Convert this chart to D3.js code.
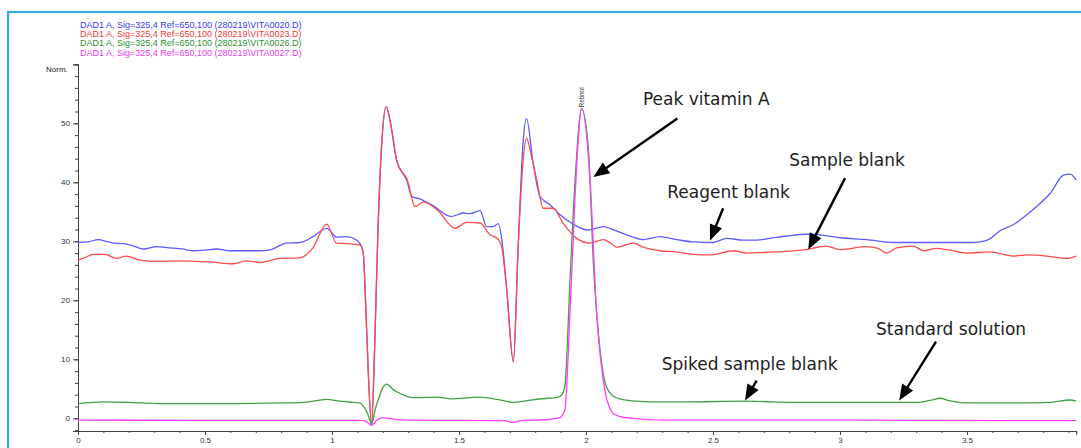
<!DOCTYPE html>
<html>
<head>
<meta charset="utf-8">
<script src="https://cdn.jsdelivr.net/npm/d3@7"></script>
<style>
  body { margin: 0; background: #fff; }
  svg { display: block; }
</style>
</head>
<body>
<svg id="chart"></svg>
<script>
// retention time (min) vs signal (Norm.)
const sampleBlank = [
  [0, 29.8], [0.04, 29.9], [0.08, 30.3], [0.11, 30.0], [0.14, 29.7], [0.18, 29.6], [0.22, 29.2],
  [0.257, 28.7], [0.31, 29.1], [0.36, 28.9], [0.41, 28.7], [0.454, 28.4], [0.5, 28.5], [0.545, 28.7],
  [0.598, 28.4], [0.65, 28.4], [0.717, 28.4], [0.76, 28.6], [0.82, 29.7], [0.874, 29.8], [0.925, 30.8],
  [0.979, 32.2], [1.018, 30.7], [1.058, 30.8], [1.097, 30.2], [1.116, 29.1], [1.123, 28], [1.134, 17.8],
  [1.143, 7.7], [1.156, -1.1], [1.168, 12.1], [1.181, 31.9], [1.195, 46], [1.213, 52.8], [1.235, 48.9],
  [1.254, 43.8], [1.274, 41.8], [1.294, 40.4], [1.314, 37.6], [1.346, 37.2], [1.399, 36], [1.47, 34.2],
  [1.516, 34.8], [1.543, 34.7], [1.583, 35.2], [1.609, 32.5], [1.635, 32.5], [1.655, 33], [1.668, 30.5],
  [1.687, 22.3], [1.714, 9.6], [1.733, 29.1], [1.753, 47.2], [1.766, 50.8], [1.792, 43.2], [1.819, 37.6],
  [1.858, 36.2], [1.898, 34.5], [1.95, 32.9], [2.009, 31.9], [2.068, 32.5], [2.094, 32.2], [2.134, 31.5],
  [2.18, 30.8], [2.226, 30.3], [2.291, 30.8], [2.357, 30.3], [2.422, 29.9], [2.501, 29.8], [2.554, 30.5],
  [2.62, 30.2], [2.672, 30.2], [2.724, 30.5], [2.79, 30.9], [2.868, 31.2], [2.92, 31.1], [3.0, 30.6],
  [3.105, 30.3], [3.21, 29.8], [3.341, 29.8], [3.433, 29.8], [3.512, 29.8], [3.564, 30.0], [3.59, 30.4],
  [3.63, 31.8], [3.682, 32.8], [3.709, 33.6], [3.774, 35.9], [3.827, 38.1], [3.88, 41.2], [3.906, 41.4],
  [3.93, 40.4]
];

const reagentBlank = [
  [0, 26.8], [0.03, 27.3], [0.06, 27.8], [0.106, 27.8], [0.152, 27.1], [0.19, 27.5], [0.244, 26.8],
  [0.31, 26.6], [0.4, 26.7], [0.46, 26.6], [0.52, 26.5], [0.611, 26.2], [0.664, 26.7], [0.717, 26.4],
  [0.795, 27.1], [0.874, 27.2], [0.925, 28.9], [0.979, 32.9], [1.018, 29.7], [1.058, 29.6], [1.11, 29.4],
  [1.123, 28], [1.134, 17.8], [1.143, 7.7], [1.156, -1.1], [1.168, 12.1], [1.181, 31.9], [1.195, 46],
  [1.213, 52.8], [1.235, 48.9], [1.254, 43.8], [1.274, 41.8], [1.294, 40.7], [1.327, 35.9], [1.36, 36.7],
  [1.415, 35.3], [1.484, 32.2], [1.53, 33.2], [1.583, 33.1], [1.622, 31.1], [1.655, 30.3], [1.668, 29.1],
  [1.687, 22.3], [1.714, 9.6], [1.733, 29.1], [1.753, 44], [1.766, 47.5], [1.785, 44.5], [1.806, 40.4],
  [1.832, 35.6], [1.871, 35.6], [1.911, 33], [1.963, 30.5], [2.016, 29.7], [2.068, 30.3], [2.094, 29.8],
  [2.121, 29], [2.186, 29.7], [2.226, 29], [2.291, 28.4], [2.357, 28.2], [2.422, 27.8], [2.488, 27.7],
  [2.58, 28.4], [2.633, 28], [2.737, 28.2], [2.868, 28.6], [2.947, 29.2], [3.0, 28.6], [3.105, 29.1],
  [3.15, 28.8], [3.184, 28], [3.223, 28.9], [3.289, 29.2], [3.328, 28.4], [3.38, 28.8], [3.433, 28.5],
  [3.499, 28], [3.59, 28.2], [3.682, 27.5], [3.74, 27.7], [3.814, 27.5], [3.893, 27.1], [3.93, 27.5]
];

const spikedSampleBlank = [
  [0, 2.5], [0.1, 2.8], [0.2, 2.7], [0.322, 2.5], [0.5, 2.5], [0.625, 2.5], [0.8, 2.6], [0.887, 2.7],
  [0.94, 3.0], [0.979, 3.2], [1.03, 2.9], [1.084, 2.7], [1.11, 2.6], [1.123, 2.1], [1.14, 0.8],
  [1.156, -1.0], [1.17, 1.5], [1.185, 3.5], [1.2, 5.2], [1.215, 5.8], [1.24, 4.9], [1.268, 4.2],
  [1.32, 3.5], [1.412, 3.6], [1.47, 3.3], [1.543, 3.5], [1.583, 3.6], [1.65, 3.2], [1.714, 2.7],
  [1.78, 3.1], [1.85, 3.4], [1.885, 3.5], [1.905, 4.0], [1.917, 5.5], [1.937, 23.4], [1.957, 40.4],
  [1.983, 52.5], [2.009, 46], [2.029, 26.3], [2.054, 12.1], [2.08, 5.4], [2.107, 3.8], [2.134, 3.3],
  [2.2, 2.9], [2.252, 2.8], [2.4, 2.8], [2.619, 2.9], [2.843, 2.7], [3.105, 2.7], [3.3, 2.7],
  [3.36, 3.1], [3.394, 3.4], [3.43, 3.0], [3.499, 2.6], [3.7, 2.6], [3.827, 2.7], [3.906, 3.1], [3.93, 2.9]
];

const standardSolution = [
  [0, -0.3], [0.5, -0.35], [1.0, -0.35], [1.12, -0.35], [1.14, -0.7], [1.156, -1.2], [1.175, -0.4],
  [1.2, 0.1], [1.23, -0.1], [1.3, -0.3], [1.5, -0.35], [1.68, -0.4], [1.714, -0.7], [1.74, -0.4],
  [1.85, -0.2], [1.898, 0.1], [1.91, 0.8], [1.917, 1.4], [1.937, 17.8], [1.957, 37.6], [1.983, 52.5],
  [2.016, 40.4], [2.042, 17.8], [2.068, 6.5], [2.08, 3.5], [2.094, 1.7], [2.107, 0.8], [2.134, 0.3],
  [2.186, 0], [2.3, -0.3], [2.8, -0.3], [3.3, -0.35], [3.93, -0.4]
];

const seriesNames = [
  "DAD1 A, Sig=325,4 Ref=650,100 (280219\\VITA0020.D)",
  "DAD1 A, Sig=325,4 Ref=650,100 (280219\\VITA0023.D)",
  "DAD1 A, Sig=325,4 Ref=650,100 (280219\\VITA0026.D)",
  "DAD1 A, Sig=325,4 Ref=650,100 (280219\\VITA0027.D)"
];

const xMajorTicks = [0, 0.5, 1, 1.5, 2, 2.5, 3, 3.5];
const yMajorTicks = [0, 10, 20, 30, 40, 50, 60];
const yTickLabels = ["0", "10", "20", "30", "40", "50", ""];

// label, text anchor [x, y], arrow start [x, y], arrow tip [x, y]  (in data units)
const annotationLabels = ["Peak vitamin A", "Sample blank", "Reagent blank", "Standard solution", "Spiked sample blank"];

const width = 1081;
const height = 448;

const svg = d3.select("#chart").attr("width", width).attr("height", height);

const x = d3.scaleLinear().domain([0, 3.93]).range([78, 1076.2]);
const y = d3.scaleLinear().domain([-2.15, 60]).range([431, 64.3]);

// ── Frame ──
svg.append("rect")
  .attr("x", 8).attr("y", 12)
  .attr("width", 1200).attr("height", 600)
  .attr("fill", "none")
  .attr("stroke", "#38ace2")
  .attr("stroke-width", 2.2);

// ── Legend lines at top ──
const legendColors = ["#3a3af0", "#f03a3a", "#2f8f2f", "#e83ae8"];
const seriesColors = ["#5c5cff", "#ff4a4a", "#44a044", "#ff3cff"];

svg.append("g")
  .selectAll("text")
  .data(seriesNames)
  .join("text")
  .attr("x", 80)
  .attr("y", (d, i) => 28 + i * 9.2)
  .attr("font-family", "Liberation Sans, Arial, sans-serif")
  .attr("font-size", 9)
  .attr("fill", (d, i) => legendColors[i])
  .text((d) => d);

// ── Axes ──
const axisColor = "#444";
const tickFont = (g) => g.selectAll("text")
  .attr("font-family", "Liberation Sans, Arial, sans-serif")
  .attr("font-size", 8)
  .attr("fill", "#333");

svg.append("g")
  .attr("transform", `translate(${x(0)},0)`)
  .call(d3.axisLeft(y).tickValues(d3.range(-2, 61, 2)).tickSize(3).tickFormat(""))
  .call((g) => g.selectAll("line,path").attr("stroke", axisColor));

svg.append("g")
  .attr("transform", `translate(${x(0)},0)`)
  .call(d3.axisLeft(y).tickValues(yMajorTicks).tickSize(5).tickPadding(3)
    .tickFormat((d, i) => yTickLabels[i]))
  .call((g) => g.selectAll("line,path").attr("stroke", axisColor))
  .call(tickFont);

svg.append("g")
  .attr("transform", `translate(0,${y.range()[0]})`)
  .call(d3.axisBottom(x).tickValues(d3.range(0, 39.5).map((i) => i / 10)).tickSize(2).tickFormat(""))
  .call((g) => g.selectAll("line,path").attr("stroke", axisColor));

svg.append("g")
  .attr("transform", `translate(0,${y.range()[0]})`)
  .call(d3.axisBottom(x).tickValues(xMajorTicks).tickSize(4).tickPadding(2).tickFormat((d) => d))
  .call((g) => g.selectAll("line,path").attr("stroke", axisColor))
  .call(tickFont);

svg.append("text")
  .attr("x", 46).attr("y", 72)
  .attr("font-family", "Liberation Sans, Arial, sans-serif")
  .attr("font-size", 8)
  .attr("fill", "#222")
  .text("Norm.");

// ── Chromatograms ──
const line = d3.line()
  .x((d) => x(d[0]))
  .y((d) => y(d[1]))
  .curve(d3.curveMonotoneX);

const traces = [sampleBlank, reagentBlank, spikedSampleBlank, standardSolution];

svg.append("g")
  .selectAll("path")
  .data(traces)
  .join("path")
  .attr("d", line)
  .attr("fill", "none")
  .attr("stroke", (d, i) => seriesColors[i])
  .attr("stroke-width", 1.3)
  .attr("stroke-linejoin", "round");

// peak label
svg.append("text")
  .attr("transform", `translate(${x(1.983) + 2.5},${y(52.5) - 1}) rotate(-90)`)
  .attr("font-family", "Liberation Sans, Arial, sans-serif")
  .attr("font-size", 6.5)
  .attr("fill", "#333")
  .text("Retinol");

// ── Annotations ──
const annoPos = [
  { text: [2.224, 53.1], from: [2.36, 50.8], tip: [2.029, 40.9] },
  { text: [2.80, 42.8], from: [3.02, 40.7], tip: [2.875, 28.6] },
  { text: [2.32, 37.3], from: [2.54, 35.6], tip: [2.488, 30.1] },
  { text: [3.142, 14.1], from: [3.378, 13.0], tip: [3.233, 3.0] },
  { text: [2.298, 8.2], from: [2.672, 6.4], tip: [2.626, 3.0] }
];

const anno = svg.append("g");
const headLen = 16;
const headHalf = 6.5;

annotationLabels.forEach((label, i) => {
  const p = annoPos[i];
  anno.append("text")
    .attr("x", x(p.text[0]))
    .attr("y", y(p.text[1]))
    .attr("font-family", "DejaVu Sans, sans-serif")
    .attr("font-size", 17)
    .attr("fill", "#1e1e1e")
    .text(label);

  const x1 = x(p.from[0]), y1 = y(p.from[1]);
  const x2 = x(p.tip[0]), y2 = y(p.tip[1]);
  const len = Math.hypot(x2 - x1, y2 - y1);
  const ux = (x2 - x1) / len, uy = (y2 - y1) / len;
  const bx = x2 - ux * headLen, by = y2 - uy * headLen;

  anno.append("line")
    .attr("x1", x1).attr("y1", y1)
    .attr("x2", bx + ux * 2).attr("y2", by + uy * 2)
    .attr("stroke", "#000")
    .attr("stroke-width", 2.4);

  anno.append("path")
    .attr("d", `M${x2},${y2}L${bx - uy * headHalf},${by + ux * headHalf}L${bx + uy * headHalf},${by - ux * headHalf}Z`)
    .attr("fill", "#000");
});
</script>
</body>
</html>
